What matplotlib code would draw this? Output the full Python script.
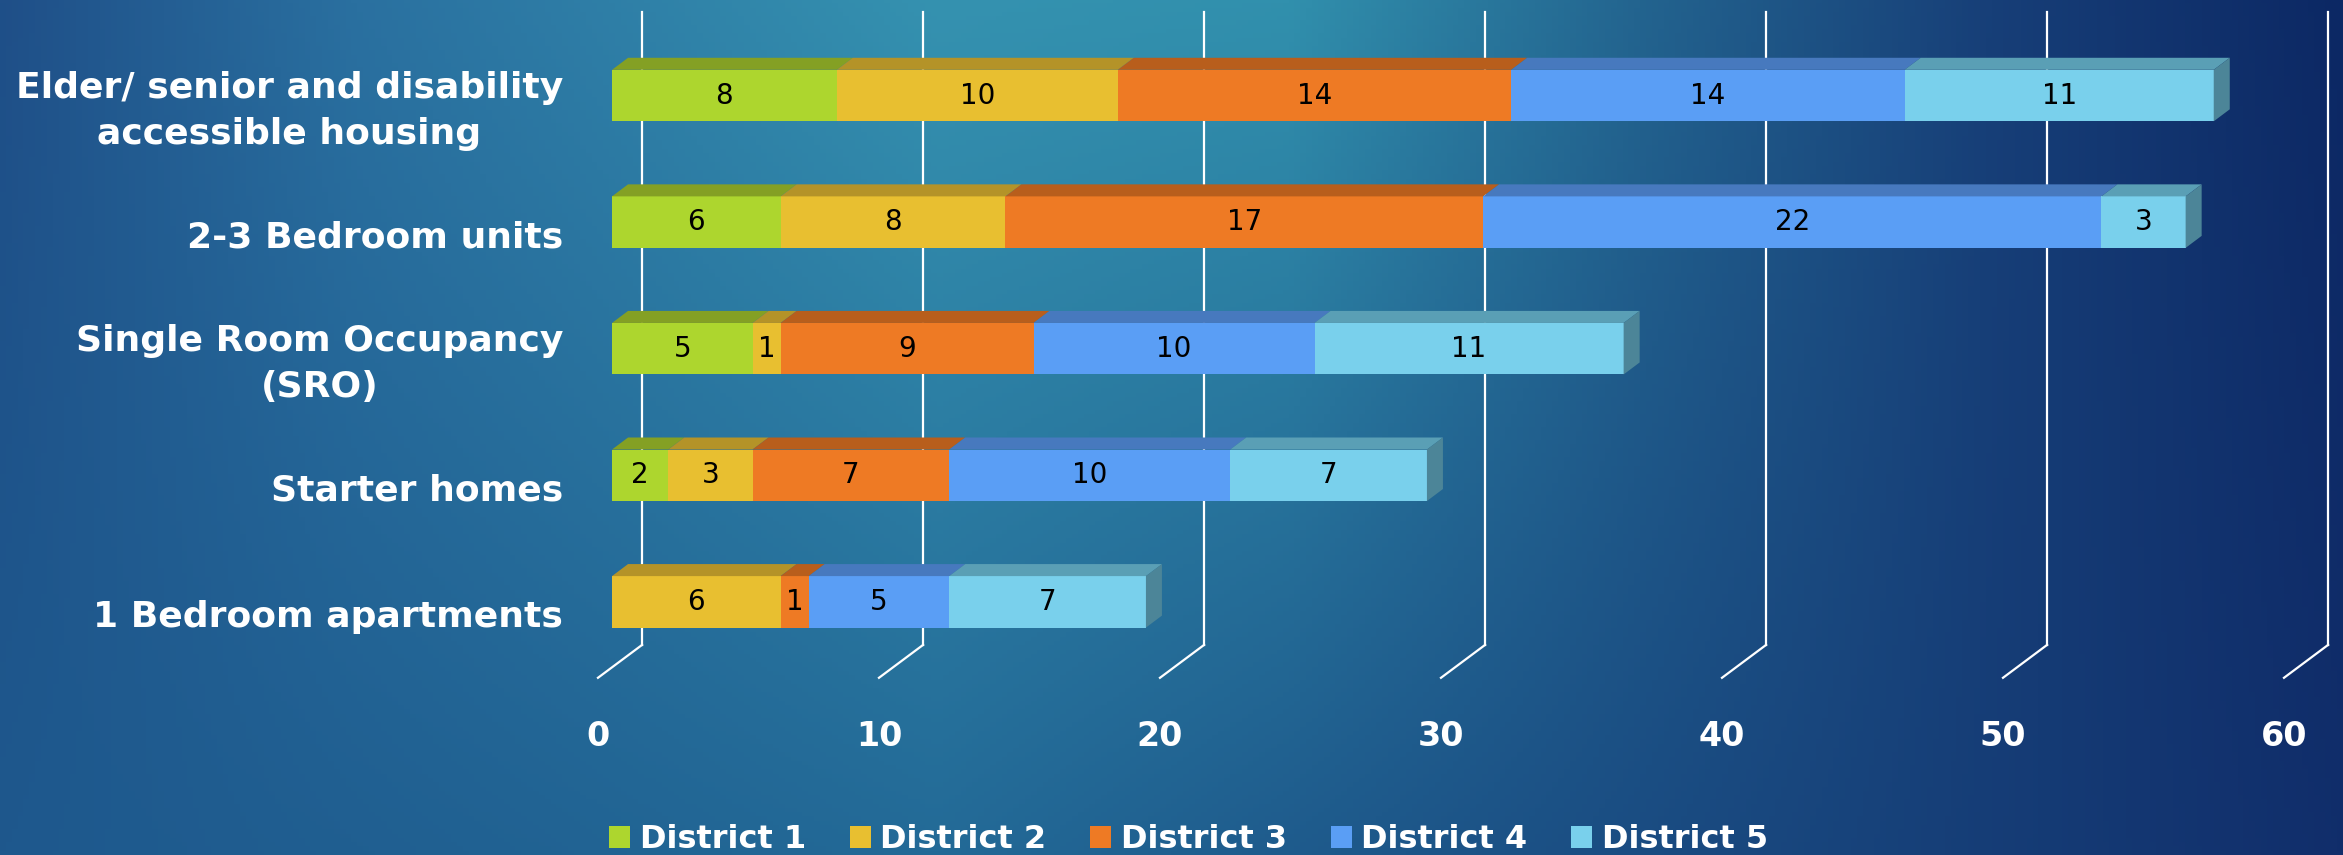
import numpy as np
import matplotlib
matplotlib.use("Agg")
import matplotlib.pyplot as plt
from matplotlib.patches import Polygon, Patch
from matplotlib.colors import to_rgb

categories = ["Elder/ senior and disability\naccessible housing",
              "2-3 Bedroom units",
              "Single Room Occupancy\n(SRO)",
              "Starter homes",
              "1 Bedroom apartments"]
series = ["District 1", "District 2", "District 3", "District 4", "District 5"]
district1 = [8, 6, 5, 2, 0]
district2 = [10, 8, 1, 3, 6]
district3 = [14, 17, 9, 7, 1]
district4 = [14, 22, 10, 10, 5]
district5 = [11, 3, 11, 7, 7]
ticks = [0, 10, 20, 30, 40, 50, 60]

values = [district1, district2, district3, district4, district5]
front = ["#ADD62E", "#E8BF30", "#EE7A24", "#5A9EF5", "#79D0EC"]
topc = ["#84A024", "#B49328", "#B85E1C", "#4779BE", "#5A9FB5"]
sidec = "#4C8598"

fig = plt.figure(figsize=(23.43, 8.55), dpi=100)
ax = fig.add_axes([0, 0, 1, 1])
ax.set_xlim(-21.78, 61.6)
ax.set_ylim(6.0, -0.755)
ax.axis("off")

# background gradient
xs = np.linspace(0, 1, 400)
top_stops = [0, 0.15, 0.4, 0.55, 0.7, 0.85, 1.0]
top_cols = ["#1f4f88", "#2a70a0", "#3592b0", "#3190ad", "#23648f", "#173f78", "#0c2864"]
bot_stops = [0, 0.4, 0.7, 1.0]
bot_cols = ["#1e588d", "#236a97", "#1a4c82", "#112e6b"]
def prof(stops, cols):
    arr = np.array([to_rgb(c) for c in cols])
    return np.stack([np.interp(xs, stops, arr[:, k]) for k in range(3)], axis=1)
tp = prof(top_stops, top_cols)
bp = prof(bot_stops, bot_cols)
fy = np.linspace(0, 1, 200)[:, None, None]
img = tp[None, :, :] * (1 - fy) + bp[None, :, :] * fy
ax.imshow(img, extent=(-21.78, 61.6, 6.0, -0.755), aspect="auto", zorder=0)

h = 0.407
dx, dy = 0.57, -0.095
gx, gtop, gbot = 1.07, -0.66, 4.34
fx, fbot = -0.5, 4.60

# gridlines on back wall and floor
for t in ticks:
    ax.plot([t + gx, t + gx], [gtop, gbot], color="white", lw=1.6, zorder=1)
    ax.plot([t + gx, t + fx], [gbot, fbot], color="white", lw=1.6, zorder=1)
    ax.text(t + fx, 5.06, str(t), color="white", fontsize=24, fontweight="bold",
            ha="center", va="center", zorder=5)

y = np.arange(len(categories))
left = np.zeros(len(categories))
for k in range(len(series)):
    v = np.array(values[k], dtype=float)
    ax.barh(y, v, left=left, height=h, color=front[k], zorder=3)
    for i in range(len(categories)):
        if v[i] <= 0:
            continue
        x0, x1 = left[i], left[i] + v[i]
        yt = y[i] - h / 2
        ax.add_patch(Polygon([(x0, yt), (x1, yt), (x1 + dx, yt + dy), (x0 + dx, yt + dy)],
                             closed=True, facecolor=topc[k], edgecolor="none", zorder=3))
        ax.text((x0 + x1) / 2, y[i], str(int(v[i])), fontsize=20, color="black",
                ha="center", va="center", zorder=4)
    left = left + v

# right side faces of bar ends
for i in range(len(categories)):
    xe = left[i]
    yt, yb = y[i] - h / 2, y[i] + h / 2
    ax.add_patch(Polygon([(xe, yt), (xe + dx, yt + dy), (xe + dx, yb + dy), (xe, yb)],
                         closed=True, facecolor=sidec, edgecolor="none", zorder=3))

for i, c in enumerate(categories):
    ax.text(-1.74, y[i] + 0.12, c, color="white", fontsize=26, fontweight="bold",
            ha="right", va="center", multialignment="center", linespacing=1.45, zorder=5)

handles = [Patch(facecolor=front[k], label=series[k]) for k in range(len(series))]
leg = ax.legend(handles=handles, ncol=5, loc="center left", bbox_to_anchor=(0.26, 0.018),
                frameon=False, fontsize=23, handlelength=0.65, handleheight=0.65,
                handletextpad=0.3, columnspacing=1.38, borderaxespad=0, borderpad=0)
for t in leg.get_texts():
    t.set_color("white")
    t.set_fontweight("bold")

fig.savefig("out.png", dpi=100)
